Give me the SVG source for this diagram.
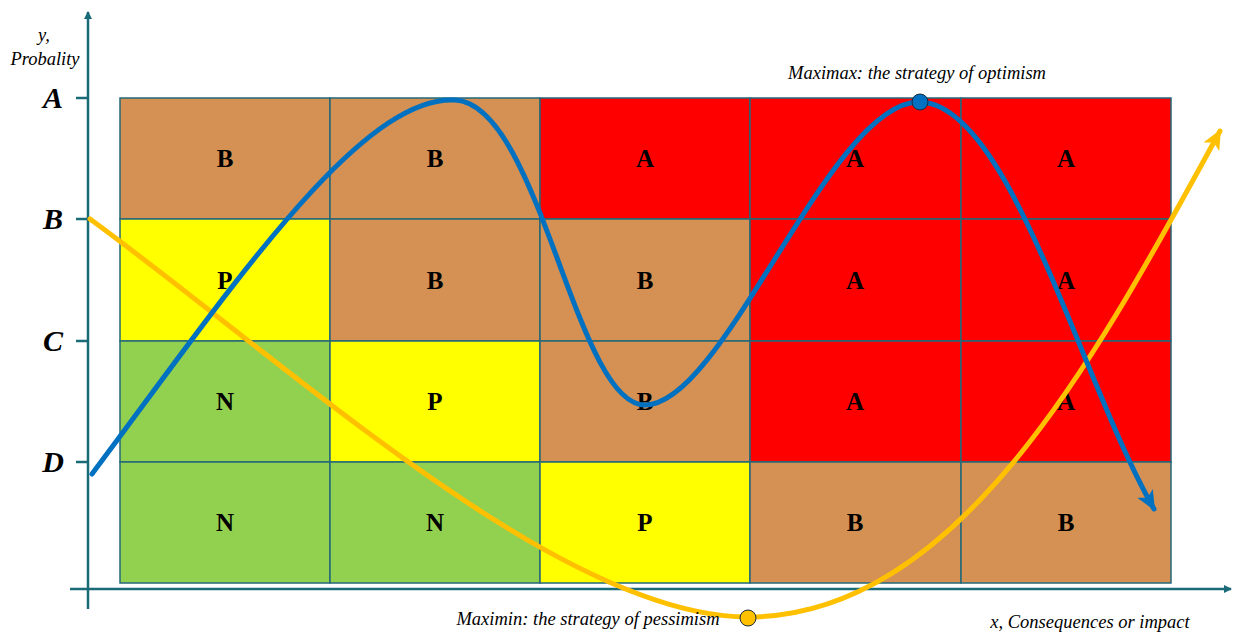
<svg xmlns="http://www.w3.org/2000/svg" width="1233" height="632" viewBox="0 0 1233 632">
<style>
.c{stroke:#25687A;stroke-width:1.5}
.br{fill:#D59153}.rd{fill:#FF0000}.ye{fill:#FFFF00}.gr{fill:#92D050}
.lt{font-family:"Liberation Serif",serif;font-weight:bold;font-size:25px;text-anchor:middle}
.ax{font-family:"Liberation Serif",serif;font-weight:bold;font-style:italic;font-size:30px;text-anchor:middle}
.it{font-family:"Liberation Serif",serif;font-style:italic;font-size:18.5px}
.axis{stroke:#1A6A78;stroke-width:2.5;fill:none}
</style>
<defs>
<marker id="ah" markerWidth="8" markerHeight="8" refX="7" refY="4" orient="auto" markerUnits="userSpaceOnUse" viewBox="0 0 8 8"><path d="M0,0 L8,4 L0,8 Z" fill="#1A6A78"/></marker>
<marker id="bh" markerWidth="22" markerHeight="22" refX="18" refY="11" orient="auto" markerUnits="userSpaceOnUse" viewBox="0 0 22 22"><path d="M0,2 L20,11 L0,20 L5,11 Z" fill="#0070C0"/></marker>
<marker id="yh" markerWidth="22" markerHeight="22" refX="18" refY="11" orient="auto" markerUnits="userSpaceOnUse" viewBox="0 0 22 22"><path d="M0,2 L20,11 L0,20 L5,11 Z" fill="#FFC000"/></marker>
</defs>
<rect width="1233" height="632" fill="#fff"/>
<g id="grid">
<g id="r1">
<rect class="c br" x="120" y="98" width="210" height="121"/>
<rect class="c br" x="330" y="98" width="210" height="121"/>
<rect class="c rd" x="540" y="98" width="210" height="121"/>
<rect class="c rd" x="750" y="98" width="211" height="121"/>
<rect class="c rd" x="961" y="98" width="210" height="121"/>
</g>
<g id="r2">
<rect class="c ye" x="120" y="219" width="210" height="122"/>
<rect class="c br" x="330" y="219" width="210" height="122"/>
<rect class="c br" x="540" y="219" width="210" height="122"/>
<rect class="c rd" x="750" y="219" width="211" height="122"/>
<rect class="c rd" x="961" y="219" width="210" height="122"/>
</g>
<g id="r3">
<rect class="c gr" x="120" y="341" width="210" height="121"/>
<rect class="c ye" x="330" y="341" width="210" height="121"/>
<rect class="c br" x="540" y="341" width="210" height="121"/>
<rect class="c rd" x="750" y="341" width="211" height="121"/>
<rect class="c rd" x="961" y="341" width="210" height="121"/>
</g>
<g id="r4">
<rect class="c gr" x="120" y="462" width="210" height="121"/>
<rect class="c gr" x="330" y="462" width="210" height="121"/>
<rect class="c ye" x="540" y="462" width="210" height="121"/>
<rect class="c br" x="750" y="462" width="211" height="121"/>
<rect class="c br" x="961" y="462" width="210" height="121"/>
</g>
</g>
<g id="cell-labels">
<text class="lt" x="225" y="167">B</text><text class="lt" x="435" y="167">B</text><text class="lt" x="645" y="167">A</text><text class="lt" x="855" y="167">A</text><text class="lt" x="1066" y="167">A</text>
<text class="lt" x="225" y="289">P</text><text class="lt" x="435" y="289">B</text><text class="lt" x="645" y="289">B</text><text class="lt" x="855" y="289">A</text><text class="lt" x="1066" y="289">A</text>
<text class="lt" x="225" y="410">N</text><text class="lt" x="435" y="410">P</text><text class="lt" x="645" y="410">B</text><text class="lt" x="855" y="410">A</text><text class="lt" x="1066" y="410">A</text>
<text class="lt" x="225" y="531">N</text><text class="lt" x="435" y="531">N</text><text class="lt" x="645" y="531">P</text><text class="lt" x="855" y="531">B</text><text class="lt" x="1066" y="531">B</text>
</g>
<g id="axes">
<line class="axis" x1="88" y1="609" x2="88" y2="12" marker-end="url(#ah)"/>
<line class="axis" x1="70" y1="589" x2="1231" y2="589" marker-end="url(#ah)"/>
<line class="axis" x1="76" y1="98" x2="88" y2="98"/>
<line class="axis" x1="76" y1="219" x2="88" y2="219"/>
<line class="axis" x1="76" y1="341" x2="88" y2="341"/>
<line class="axis" x1="76" y1="462" x2="88" y2="462"/>
<text class="ax" x="53" y="108">A</text>
<text class="ax" x="53" y="229">B</text>
<text class="ax" x="53" y="351">C</text>
<text class="ax" x="53" y="472">D</text>
<text class="it" x="44" y="41" text-anchor="middle">y,</text>
<text class="it" x="45" y="65" text-anchor="middle">Probality</text>
<text class="it" x="1090" y="628" text-anchor="middle">x, Consequences or impact</text>
</g>
<g id="connectors" fill="none" stroke-linecap="round">
<path id="maximin" d="M90,219 C290,365 560,617 748,617 C960,617 1100,350 1220,131" stroke="#FFC000" stroke-width="5" marker-end="url(#yh)"/>
<path id="maximax" d="M92,474 C230,290 360,95 455,100 C540,104 575,405 645,405 C725,405 830,100 920,102 C1010,104 1080,380 1154,509" stroke="#0070C0" stroke-width="5" marker-end="url(#bh)"/>
</g>
<g id="maximax-point">
<circle cx="920" cy="102" r="8" fill="#0070C0" stroke="#1a2a3a" stroke-width="1"/>
<text class="it" x="917" y="79" text-anchor="middle">Maximax: the strategy of optimism</text>
</g>
<g id="maximin-point">
<circle cx="748" cy="618" r="8" fill="#FFC000" stroke="#1a2a3a" stroke-width="1"/>
<text class="it" x="588" y="625" text-anchor="middle">Maximin: the strategy of pessimism</text>
</g>
</svg>
